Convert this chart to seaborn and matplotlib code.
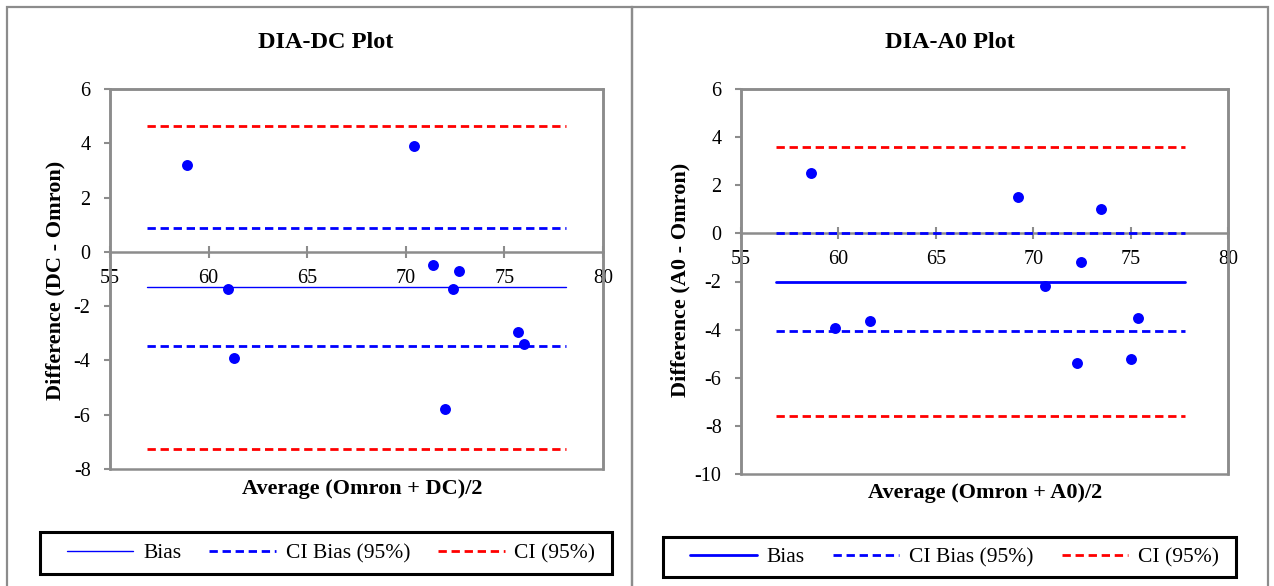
import matplotlib
matplotlib.use("Agg")
import matplotlib.pyplot as plt
from matplotlib.patches import Rectangle
import seaborn as sns
import pandas as pd

# Bland-Altman data: averages and differences of each device vs. Omron
dc_avg = [58.9, 70.4, 71.4, 72.7, 61.0, 72.4, 61.3, 75.7, 76.0, 72.0]
dc_diff = [3.2, 3.9, -0.5, -0.7, -1.35, -1.35, -3.9, -2.95, -3.4, -5.8]
dc_bias = -1.3
dc_ci_bias = [0.87, -3.47]
dc_ci = [4.65, -7.25]
dc_line_x = [56.9, 78.1]

a0_avg = [58.6, 69.2, 73.5, 72.45, 70.6, 59.8, 61.6, 75.4, 72.25, 75.0]
a0_diff = [2.5, 1.5, 1.0, -1.2, -2.2, -3.95, -3.65, -3.5, -5.4, -5.2]
a0_bias = -2.03
a0_ci_bias = [0.0, -4.06]
a0_ci = [3.57, -7.6]
a0_line_x = [56.8, 77.8]

x_ticks = [55, 60, 65, 70, 75, 80]
dc_y_ticks = [-8, -6, -4, -2, 0, 2, 4, 6]
a0_y_ticks = [-10, -8, -6, -4, -2, 0, 2, 4, 6]

sns.set_theme(style="white")
plt.rcParams["font.family"] = ["Liberation Serif", "DejaVu Serif"]
plt.rcParams["axes.unicode_minus"] = False
plt.rcParams["text.color"] = "black"
plt.rcParams["axes.labelcolor"] = "black"

W, H = 1274, 586
fig = plt.figure(figsize=(W / 100, H / 100), dpi=100)
fig.patch.set_facecolor("white")

GRAY = "#8c8c8c"
BLUE = "#0000ff"
RED = "#ff0000"
DASH = (3.0, 1.7)


def fx(px):
    return px / W


def fy(py):
    return 1 - py / H


# panel borders
for x0, x1 in [(7, 632), (632, 1268)]:
    fig.add_artist(Rectangle((fx(x0), -0.05), fx(x1 - x0), fy(7) + 0.05,
                             transform=fig.transFigure, fill=False,
                             edgecolor=GRAY, linewidth=1.6))


def draw_panel(rect, avg, diff, bias, ci_bias, ci, line_x, y_ticks,
               bias_lw, title, title_xy, xlabel, xlabel_xy, ylabel,
               ylabel_xy, legend_box):
    ax = fig.add_axes(rect)
    ax.set_xlim(x_ticks[0], x_ticks[-1])
    ax.set_ylim(y_ticks[0], y_ticks[-1])

    ax.plot(line_x, [bias, bias], color=BLUE, lw=bias_lw, zorder=3,
            label="Bias")
    ax.plot(line_x, [ci_bias[0]] * 2, color=BLUE, lw=2.0, dashes=DASH,
            zorder=3, label="CI Bias (95%)")
    ax.plot(line_x, [ci[0]] * 2, color=RED, lw=2.0, dashes=DASH, zorder=3,
            label="CI (95%)")
    ax.plot(line_x, [ci_bias[1]] * 2, color=BLUE, lw=2.0, dashes=DASH,
            zorder=3)
    ax.plot(line_x, [ci[1]] * 2, color=RED, lw=2.0, dashes=DASH, zorder=3)

    df = pd.DataFrame({"avg": avg, "diff": diff})
    sns.scatterplot(data=df, x="avg", y="diff", ax=ax, color=BLUE, s=62,
                    edgecolor=BLUE, linewidth=0, zorder=4, legend=False)

    # frame and axis through zero
    for side in ["top", "right", "left"]:
        ax.spines[side].set_color(GRAY)
        ax.spines[side].set_linewidth(1.8)
    ax.spines["bottom"].set_position(("data", 0))
    ax.spines["bottom"].set_color(GRAY)
    ax.spines["bottom"].set_linewidth(1.8)
    ax.add_patch(Rectangle((0, 0), 1, 1, transform=ax.transAxes, fill=False,
                           edgecolor=GRAY, linewidth=1.8, clip_on=False,
                           zorder=2.5))

    ax.set_xticks(x_ticks)
    ax.set_yticks(y_ticks)
    ax.tick_params(axis="y", direction="out", length=4, width=1.5,
                   color=GRAY, labelcolor="black", labelsize=14.5, pad=10,
                   left=True)
    ax.tick_params(axis="x", direction="inout", length=8, width=1.5,
                   color=GRAY, labelcolor="black", labelsize=14.5, pad=8,
                   bottom=True)
    ax.set_xlabel("")
    ax.set_ylabel("")

    fig.text(fx(title_xy[0]), fy(title_xy[1]), title, fontsize=17.5,
             fontweight="bold", ha="center", va="center")
    fig.text(fx(xlabel_xy[0]), fy(xlabel_xy[1]), xlabel, fontsize=16,
             fontweight="bold", ha="center", va="center")
    fig.text(fx(ylabel_xy[0]), fy(ylabel_xy[1]), ylabel, fontsize=16,
             fontweight="bold", ha="center", va="center", rotation=90)

    # legend: black frame with the entries centred inside it
    x0, y0, x1, y1 = legend_box
    fig.add_artist(Rectangle((fx(x0), fy(y1)), fx(x1 - x0), (y1 - y0) / H,
                             transform=fig.transFigure, fill=False,
                             edgecolor="black", linewidth=2.2))
    handles, labels = ax.get_legend_handles_labels()
    fig.legend(handles, labels, loc="center", ncol=3,
               bbox_to_anchor=(fx((x0 + x1) / 2 + 5), fy((y0 + y1) / 2)),
               fontsize=15.5, frameon=False, handlelength=3.1,
               handletextpad=0.45, columnspacing=1.3, borderpad=0)
    return ax


draw_panel([fx(110), fy(469), fx(603 - 110), (469 - 89) / H],
           dc_avg, dc_diff, dc_bias, dc_ci_bias, dc_ci, dc_line_x,
           dc_y_ticks, 1.0, "DIA-DC Plot", (326, 43),
           "Average (Omron + DC)/2", (362, 489),
           "Difference (DC - Omron)", (55, 280), (40, 532, 612, 574))

draw_panel([fx(741), fy(474), fx(1228 - 741), (474 - 89) / H],
           a0_avg, a0_diff, a0_bias, a0_ci_bias, a0_ci, a0_line_x,
           a0_y_ticks, 2.0, "DIA-A0 Plot", (950, 43),
           "Average (Omron + A0)/2", (985, 493),
           "Difference (A0 - Omron)", (680, 280), (663, 537, 1236, 577))

fig.savefig("out.png", dpi=100, facecolor="white")
